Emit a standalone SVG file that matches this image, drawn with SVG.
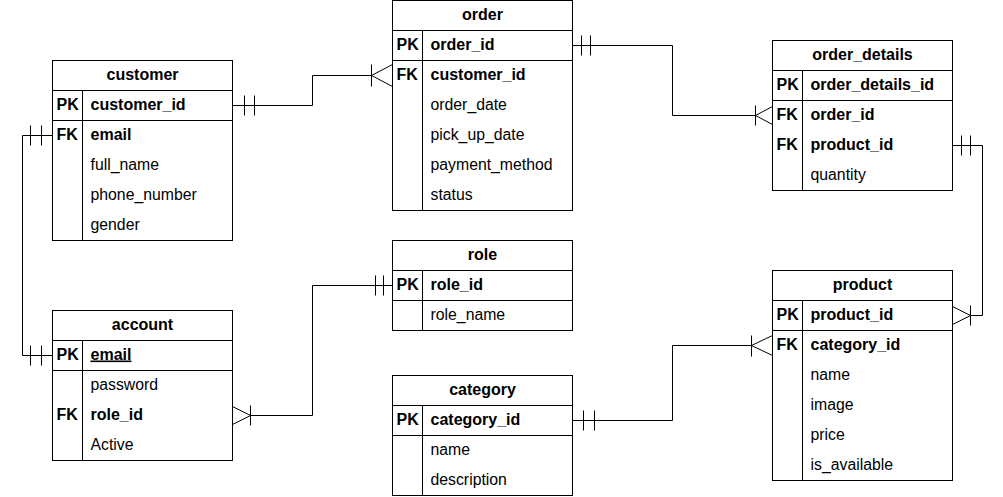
<svg xmlns="http://www.w3.org/2000/svg" width="1003" height="497" viewBox="0 0 1003 497">
  <style>
    .box { fill: #ffffff; stroke: #000000; stroke-width: 1; }
    .sep { stroke: #000000; stroke-width: 1; fill: none; }
    .wire { stroke: #000000; stroke-width: 1; fill: none; }
    text { font-family: "Liberation Sans", Arial, sans-serif; fill: #000000; }
    .title { font-size: 16px; font-weight: bold; text-anchor: middle; }
    .key { font-size: 16px; font-weight: bold; }
    .kf { font-size: 16px; font-weight: bold; }
    .fld { font-size: 15.8px; }
  </style>
  <rect x="0" y="0" width="1003" height="497" fill="#ffffff"/>
  <g transform="translate(0.5,-0.5)">
    <!-- relationships -->
    <g id="connectors" transform="translate(0,1)">
      <!-- customer.customer_id -> order.customer_id -->
      <path class="wire" d="M232,105 H312 V75 H371"/>
      <path class="wire" d="M244,95 V115 M254,95 V115"/>
      <path class="wire" d="M371,64 V86 M392,64 L371,75 L392,86"/>
      <!-- customer.email -> account.email -->
      <path class="wire" d="M52,135 H22 V355 H52"/>
      <path class="wire" d="M30,125 V145 M41,125 V145"/>
      <path class="wire" d="M30,345 V365 M41,345 V365"/>
      <!-- order.order_id -> order_details.order_id -->
      <path class="wire" d="M572,45 H672 V115 H755"/>
      <path class="wire" d="M581,35 V55 M590,35 V55"/>
      <path class="wire" d="M755,105 V125 M772,106 L755,115 L772,124"/>
      <!-- order_details.product_id -> product.product_id -->
      <path class="wire" d="M952,145 H982 V315 H970"/>
      <path class="wire" d="M961,135 V155 M970,135 V155"/>
      <path class="wire" d="M970,305 V325 M952,306 L970,315 L952,324"/>
      <!-- account.role_id -> role.role_id -->
      <path class="wire" d="M250,415 H312 V285 H392"/>
      <path class="wire" d="M250,405 V425 M232,406 L250,415 L232,424"/>
      <path class="wire" d="M375,275 V295 M383,275 V295"/>
      <!-- category.category_id -> product.category_id -->
      <path class="wire" d="M572,420 H672 V345 H751"/>
      <path class="wire" d="M583,410 V430 M594,410 V430"/>
      <path class="wire" d="M751,335 V356 M772,335 L751,345 L772,355"/>
    </g>

    <g id="customer">
      <rect class="box" x="52" y="61" width="180" height="180"/>
      <path class="sep" d="M52,91 H232 M52,121 H232 M82,91 V241"/>
      <text class="title" x="142" y="80">customer</text>
      <text class="key" x="56" y="110">PK</text>
      <text class="kf" x="90" y="110">customer_id</text>
      <text class="key" x="56" y="140">FK</text>
      <text class="kf" x="90" y="140">email</text>
      <text class="fld" x="90" y="170">full_name</text>
      <text class="fld" x="90" y="200">phone_number</text>
      <text class="fld" x="90" y="230">gender</text>
    </g>

    <g id="order">
      <rect class="box" x="392" y="1" width="180" height="210"/>
      <path class="sep" d="M392,31 H572 M392,61 H572 M422,31 V211"/>
      <text class="title" x="482" y="20">order</text>
      <text class="key" x="396" y="50">PK</text>
      <text class="kf" x="430" y="50">order_id</text>
      <text class="key" x="396" y="80">FK</text>
      <text class="kf" x="430" y="80">customer_id</text>
      <text class="fld" x="430" y="110">order_date</text>
      <text class="fld" x="430" y="140">pick_up_date</text>
      <text class="fld" x="430" y="170">payment_method</text>
      <text class="fld" x="430" y="200">status</text>
    </g>

    <g id="order_details">
      <rect class="box" x="772" y="41" width="180" height="150"/>
      <path class="sep" d="M772,71 H952 M772,101 H952 M802,71 V191"/>
      <text class="title" x="862" y="60">order_details</text>
      <text class="key" x="776" y="90">PK</text>
      <text class="kf" x="810" y="90">order_details_id</text>
      <text class="key" x="776" y="120">FK</text>
      <text class="kf" x="810" y="120">order_id</text>
      <text class="key" x="776" y="150">FK</text>
      <text class="kf" x="810" y="150">product_id</text>
      <text class="fld" x="810" y="180">quantity</text>
    </g>

    <g id="account">
      <rect class="box" x="52" y="311" width="180" height="150"/>
      <path class="sep" d="M52,341 H232 M52,371 H232 M82,341 V461"/>
      <text class="title" x="142" y="330">account</text>
      <text class="key" x="56" y="360">PK</text>
      <text class="kf" x="90" y="360" text-decoration="underline">email</text>
      <text class="fld" x="90" y="390">password</text>
      <text class="key" x="56" y="420">FK</text>
      <text class="kf" x="90" y="420">role_id</text>
      <text class="fld" x="90" y="450">Active</text>
    </g>

    <g id="role">
      <rect class="box" x="392" y="241" width="180" height="90"/>
      <path class="sep" d="M392,271 H572 M392,301 H572 M422,271 V331"/>
      <text class="title" x="482" y="260">role</text>
      <text class="key" x="396" y="290">PK</text>
      <text class="kf" x="430" y="290">role_id</text>
      <text class="fld" x="430" y="320">role_name</text>
    </g>

    <g id="category">
      <rect class="box" x="392" y="376" width="180" height="120"/>
      <path class="sep" d="M392,406 H572 M392,436 H572 M422,406 V496"/>
      <text class="title" x="482" y="395">category</text>
      <text class="key" x="396" y="425">PK</text>
      <text class="kf" x="430" y="425">category_id</text>
      <text class="fld" x="430" y="455">name</text>
      <text class="fld" x="430" y="485">description</text>
    </g>

    <g id="product">
      <rect class="box" x="772" y="271" width="180" height="210"/>
      <path class="sep" d="M772,301 H952 M772,331 H952 M802,301 V481"/>
      <text class="title" x="862" y="290">product</text>
      <text class="key" x="776" y="320">PK</text>
      <text class="kf" x="810" y="320">product_id</text>
      <text class="key" x="776" y="350">FK</text>
      <text class="kf" x="810" y="350">category_id</text>
      <text class="fld" x="810" y="380">name</text>
      <text class="fld" x="810" y="410">image</text>
      <text class="fld" x="810" y="440">price</text>
      <text class="fld" x="810" y="470">is_available</text>
    </g>
  </g>
</svg>
